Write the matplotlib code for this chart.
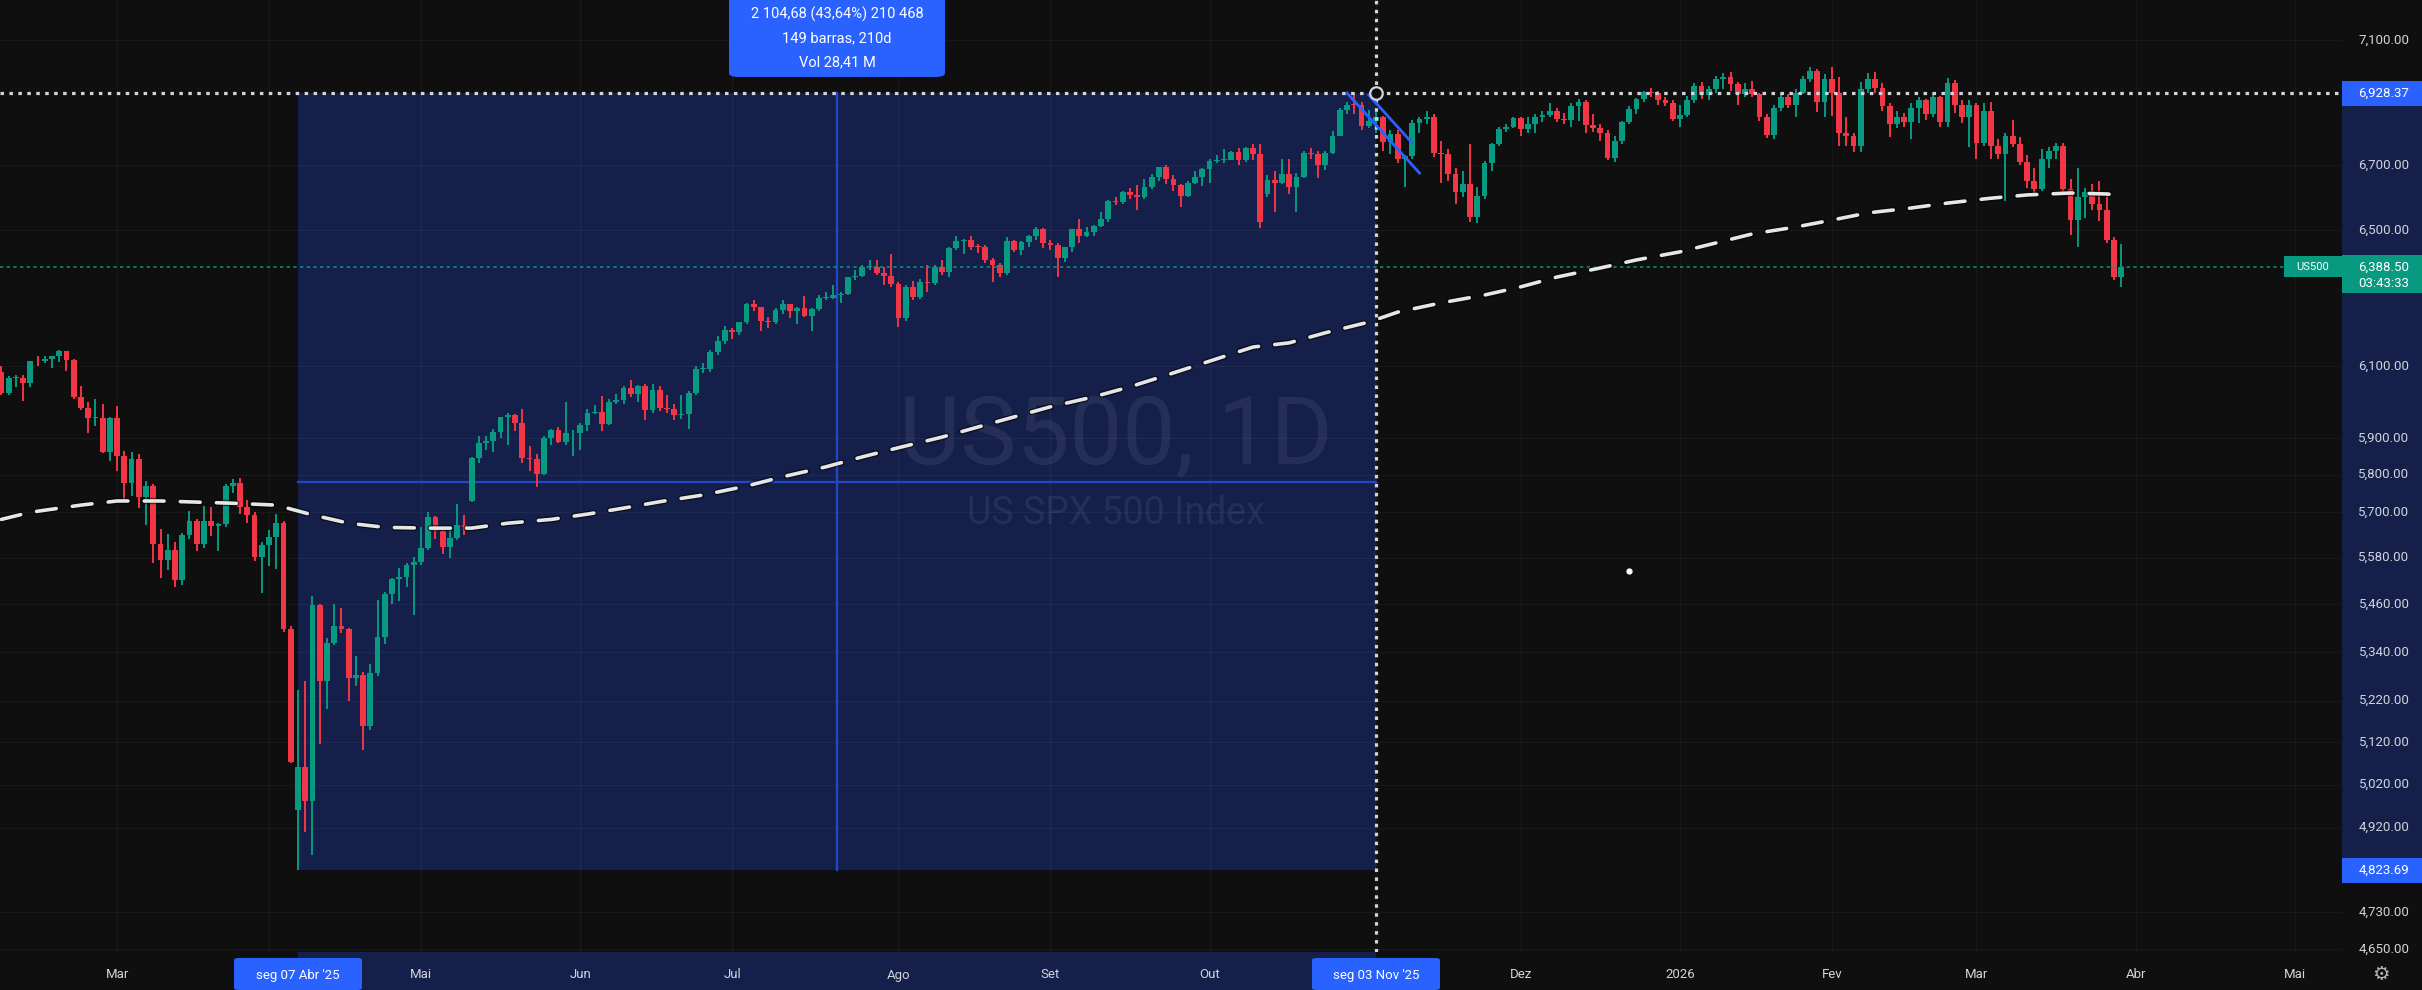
import numpy as np
import pandas as pd
import matplotlib
matplotlib.use("Agg")
import matplotlib.pyplot as plt
import matplotlib.transforms as mtransforms
import matplotlib.patheffects as pe
from matplotlib.patches import Rectangle, FancyBboxPatch

plt.rcParams['font.family'] = ['Roboto', 'DejaVu Sans']

# ---------------------------------------------------------------- data
first_day = "2025-02-05"
last_day = "2026-03-30"
closed_days = ["2025-04-18", "2025-12-25", "2026-01-01"]

opens = [
    6037,6061,6083,6026,6066,6068,6052,6115,6114,6122,6129,6144,6117,6013,5983,5955,5956,5861,
    5955,5849,5778,5843,5739,5770,5615,5573,5599,5522,5639,5675,5615,5676,5663,5668,5768,5777,5712,5693,5581,
    5612,5633,5671,5397,4960,5062,4982,5457,5268,5363,5406,5397,5276,5283,5158,5288,5376,5485,5525,5529,5561,
    5569,5604,5687,5650,5607,5631,5664,5730,5844,5886,5892,5917,5958,5964,5940,5845,5842,5802,5900,5922,5889,5912,
    5912,5936,5970,5971,5939,6000,6006,6038,6022,6045,5977,6033,5983,5981,5962,5967,6025,6092,6092,6141,6173,
    6205,6198,6227,6279,6270,6230,6226,6263,6280,6260,6269,6244,6264,6297,6297,6306,6309,6359,6363,6389,6390,6371,6362,
    6339,6238,6330,6299,6345,6340,6389,6374,6446,6466,6469,6450,6449,6411,6396,6370,6467,6439,6465,6481,6502,
    6460,6455,6416,6448,6502,6482,6495,6512,6532,6588,6584,6615,6607,6600,6631,6664,6693,6657,6638,6605,6644,6661,
    6688,6711,6715,6716,6740,6714,6753,6735,6610,6654,6644,6671,6630,6664,6736,6735,6699,6738,6792,6875,6891,6890,6822,
    6840,6852,6771,6796,6720,6728,6832,6846,6851,6737,6734,6672,6617,6642,6538,6603,6705,6766,6813,6820,
    6849,6812,6829,6850,6857,6870,6846,6841,6886,6901,6827,6816,6800,6721,6775,6835,6878,6910,6932,6930,6906,6896,
    6845,6858,6905,6950,6922,6940,6975,6980,6958,6925,6940,6925,6850,6795,6880,6915,6890,6930,6975,7000,6900,
    6975,6930,6800,6790,6760,6940,6975,6945,6885,6830,6850,6835,6880,6905,6860,6915,6835,6960,6890,6850,
    6890,6770,6870,6760,6735,6790,6765,6710,6650,6625,6720,6745,6760,6625,6530,6600,6615,6580,6560,6470,6360,
]
highs = [
    6062,6084,6101,6073,6076,6076,6116,6128,6130,6130,6147,6145,6121,6045,5999,6009,5994,5959,
    5987,5865,5860,5856,5783,5775,5655,5642,5620,5645,5703,5680,5715,5712,5670,5775,5787,5790,5732,5700,5620,
    5651,5695,5675,5404,5246,5267,5481,5460,5375,5460,5450,5400,5329,5290,5310,5470,5490,5528,5553,5565,5581,
    5659,5700,5688,5660,5660,5721,5692,5848,5906,5904,5925,5959,5969,5965,5980,5878,5855,5905,5925,5930,5999,5923,
    5940,5981,5990,6016,6007,6022,6043,6060,6046,6050,6050,6043,6018,5995,6018,6030,6101,6108,6146,6187,6215,
    6210,6227,6284,6290,6272,6243,6269,6290,6281,6272,6302,6267,6305,6316,6336,6316,6360,6381,6395,6410,6409,6390,6428,
    6345,6335,6346,6352,6395,6395,6410,6450,6481,6474,6482,6458,6456,6415,6400,6480,6470,6468,6485,6508,6505,
    6470,6460,6450,6503,6533,6508,6515,6555,6592,6600,6619,6627,6639,6656,6672,6695,6700,6670,6640,6650,6680,6690,
    6718,6730,6750,6745,6752,6755,6765,6765,6670,6680,6720,6720,6675,6745,6752,6745,6745,6808,6880,6900,6928,6900,6875,
    6875,6855,6810,6810,6730,6842,6850,6870,6860,6775,6750,6690,6680,6765,6630,6712,6770,6820,6830,6852,
    6850,6850,6860,6870,6895,6880,6865,6895,6910,6905,6860,6830,6810,6790,6840,6885,6912,6935,6945,6935,6915,6905,
    6890,6920,6960,6965,6950,6985,6992,6996,6965,6960,6968,6930,6860,6890,6928,6925,6940,6985,7013,7005,6990,
    7013,6980,6850,6800,6965,6993,6996,6960,6895,6870,6865,6896,6915,6910,6928,6920,6977,6970,6906,6906,
    6895,6896,6900,6780,6801,6842,6788,6730,6690,6749,6757,6770,6770,6657,6690,6627,6640,6650,6606,6480,6457,
]
lows = [
    6007,6048,6020,6020,6042,6003,6041,6100,6108,6095,6111,6087,6008,5978,5912,5932,5858,5837,
    5810,5732,5743,5711,5666,5565,5528,5547,5505,5510,5628,5597,5605,5635,5597,5660,5750,5695,5670,5572,5489,
    5558,5550,5390,5070,4824,4910,4857,5115,5200,5358,5386,5220,5255,5101,5150,5280,5360,5460,5468,5505,5433,
    5560,5600,5629,5590,5580,5625,5640,5725,5830,5868,5860,5900,5880,5920,5830,5810,5767,5800,5880,5885,5880,5850,
    5868,5920,5966,5920,5935,5995,5995,6013,6000,5950,5970,5975,5970,5950,5952,5925,6020,6080,6085,6132,6165,
    6177,6190,6220,6260,6201,6210,6220,6250,6240,6220,6241,6201,6258,6290,6293,6282,6305,6350,6360,6380,6365,6336,6330,
    6212,6230,6290,6295,6316,6335,6365,6360,6440,6427,6440,6430,6400,6343,6360,6365,6435,6425,6450,6470,6445,
    6440,6360,6405,6435,6460,6480,6481,6510,6525,6575,6580,6596,6560,6595,6625,6650,6640,6620,6570,6600,6640,6635,
    6645,6705,6705,6715,6700,6710,6715,6505,6600,6555,6640,6610,6555,6660,6720,6660,6685,6735,6790,6860,6860,6810,6815,
    6800,6745,6735,6705,6630,6720,6800,6830,6725,6645,6650,6580,6600,6525,6520,6595,6680,6760,6805,6815,
    6790,6800,6800,6835,6850,6835,6830,6820,6840,6800,6805,6775,6715,6710,6765,6830,6860,6900,6915,6890,6885,6840,
    6820,6850,6895,6910,6905,6930,6940,6935,6890,6915,6915,6840,6785,6780,6870,6880,6850,6925,6965,6868,6850,
    6855,6760,6760,6740,6740,6930,6930,6870,6788,6815,6820,6780,6832,6842,6851,6819,6820,6864,6832,6757,
    6718,6760,6718,6718,6588,6757,6700,6627,6610,6618,6690,6720,6606,6486,6448,6537,6560,6528,6460,6350,6330,
]
closes = [
    6061,6083,6026,6066,6068,6052,6115,6114,6122,6129,6144,6117,6013,5983,5955,5956,5861,5955,
    5849,5778,5843,5739,5770,5615,5573,5599,5522,5639,5675,5615,5676,5663,5668,5768,5777,5712,5693,5581,5612,
    5633,5671,5397,5074,5062,4982,5457,5268,5363,5406,5397,5276,5283,5158,5288,5376,5485,5525,5529,5561,5569,
    5604,5687,5650,5607,5631,5664,5660,5844,5886,5892,5917,5958,5964,5940,5845,5842,5802,5900,5922,5889,5912,5912,
    5936,5970,5971,5939,6000,6006,6038,6022,6045,5977,6033,5983,5981,5962,5967,6025,6092,6092,6141,6173,6205,
    6198,6227,6279,6270,6230,6226,6263,6280,6260,6269,6244,6264,6297,6297,6306,6309,6359,6363,6389,6390,6371,6362,6339,
    6238,6330,6299,6345,6340,6389,6374,6446,6466,6469,6450,6449,6411,6396,6370,6467,6439,6465,6481,6502,6460,
    6455,6416,6448,6502,6482,6495,6512,6532,6588,6584,6615,6607,6600,6631,6664,6693,6657,6638,6605,6644,6661,6688,
    6711,6715,6716,6740,6714,6753,6735,6525,6654,6644,6671,6630,6664,6736,6735,6699,6738,6792,6875,6891,6890,6822,6840,
    6852,6771,6796,6720,6728,6832,6846,6851,6737,6734,6672,6617,6642,6538,6603,6705,6766,6813,6820,6849,
    6812,6829,6850,6857,6870,6846,6841,6886,6901,6827,6816,6800,6721,6775,6835,6878,6910,6932,6930,6906,6896,6845,
    6858,6905,6950,6922,6940,6975,6980,6958,6925,6940,6925,6850,6795,6880,6915,6890,6930,6975,7000,6900,6975,
    6930,6800,6790,6760,6940,6975,6945,6885,6830,6850,6835,6880,6905,6860,6915,6835,6960,6890,6850,6890,
    6770,6870,6760,6735,6790,6765,6710,6650,6625,6720,6745,6760,6625,6530,6600,6615,6580,6560,6470,6360,6388.5,
]

# 200-period moving average (white dashed)
sma_dates = [
    "2025-02-07","2025-02-13","2025-02-24","2025-03-03","2025-03-11","2025-03-18","2025-03-25","2025-04-02",
    "2025-04-09","2025-04-16","2025-04-24","2025-05-02","2025-05-12","2025-05-19","2025-05-27","2025-06-03",
    "2025-06-10","2025-06-17","2025-06-25","2025-07-03","2025-07-10","2025-07-18","2025-07-25","2025-08-01",
    "2025-08-11","2025-08-18","2025-08-25","2025-09-01","2025-09-09","2025-09-16","2025-09-22","2025-10-09",
    "2025-10-16","2025-10-23","2025-10-31","2025-11-06","2025-11-14","2025-11-24","2025-12-01","2025-12-08",
    "2025-12-16","2025-12-23","2026-01-02","2026-01-09","2026-01-16","2026-01-26","2026-02-02","2026-02-09",
    "2026-02-17","2026-02-24","2026-03-04","2026-03-11","2026-03-19","2026-03-26","2026-03-30",
]
sma_values = [
    5680,5699,5718,5729,5729,5726,5723,5718,
    5692,5670,5659,5657,5657,5670,5680,5694,
    5710,5727,5745,5769,5794,5821,5848,5873,
    5902,5930,5958,5986,6014,6042,6068,6155,
    6167,6196,6227,6256,6283,6306,6330,6359,
    6386,6410,6434,6461,6488,6509,6530,6552,
    6567,6582,6597,6607,6613,6610,6606,
]

range_start_date, range_low = "2025-04-07", 4823.69
range_end_date, range_high = "2025-11-03", 6928.37
range_info = ["2 104,68 (43,64%) 210 468", "149 barras, 210d", "Vol 28,41 M"]
range_date_labels = ["seg 07 Abr '25", "seg 03 Nov '25"]
range_price_labels = ["4,823.69", "6,928.37"]

last_price = 6388.50
last_price_lines = ["6,388.50", "03:43:33"]
symbol = "US500"
watermark_title = "US500, 1D"
watermark_sub = "US SPX 500 Index"

price_ticks = [7100, 6700, 6500, 6100, 5900, 5800, 5700, 5580, 5460, 5340, 5220, 5120, 5020, 4920, 4730, 4650]
time_tick_dates = ["2025-03-03", "2025-04-01", "2025-05-01", "2025-06-02", "2025-07-01", "2025-08-01",
                   "2025-09-01", "2025-10-01", "2025-11-03", "2025-12-01", "2026-01-02", "2026-02-02",
                   "2026-03-02", "2026-04-01", "2026-05-01"]
time_tick_labels = ["Mar", "Abr", "Mai", "Jun", "Jul", "Ago", "Set", "Out", "Nov", "Dez", "2026",
                    "Fev", "Mar", "Abr", "Mai"]

# user drawings on the chart
channel_upper_dates, channel_upper_prices = ["2025-10-28", "2025-11-11"], [6928, 6675]
channel_lower_dates, channel_lower_prices = ["2025-10-31", "2025-11-10"], [6922, 6769]
cursor_date, cursor_price = "2025-12-22", 5545

# ---------------------------------------------------------------- style
BG = "#0f0f0f"
UP = "#089981"
DN = "#f23645"
BLUE = "#2962ff"
RANGE_FILL = "#15204a"
TXT = "#d1d4dc"

W, H = 2422, 990
PLOT_RIGHT, PLOT_BOTTOM = 2342, 952

# ---------------------------------------------------------------- calendar
cal = pd.bdate_range(first_day, "2026-05-29")
cal = cal[~cal.isin(pd.to_datetime(closed_days))]
origin = cal.get_loc(pd.Timestamp(range_start_date))


def bar_x(d):
    return cal.get_loc(pd.Timestamp(d)) - origin


n = len(closes)
assert len(opens) == n and len(highs) == n and len(lows) == n
assert cal[n - 1] == pd.Timestamp(last_day)
xs = np.arange(n) - origin

O = np.array(opens, float)
Hi = np.array(highs, float)
L = np.array(lows, float)
C = np.array(closes, float)

# ---------------------------------------------------------------- figure
fig = plt.figure(figsize=(W / 100, H / 100), dpi=100, facecolor=BG)
ax = fig.add_axes([0, (H - PLOT_BOTTOM) / H, PLOT_RIGHT / W, PLOT_BOTTOM / H])
ax.set_facecolor(BG)
ax.set_yscale("log")
ax.set_xlim(-41.19, 282.52)
ax.set_ylim(4643.2, 7235.2)
for s in ax.spines.values():
    s.set_visible(False)
ax.set_xticks([])
ax.set_yticks([])
ax.yaxis.set_minor_locator(matplotlib.ticker.NullLocator())

x0 = bar_x(range_start_date)
x1 = bar_x(range_end_date)

# grid
for p in price_ticks:
    ax.axhline(p, color="#ffffff", alpha=0.04, lw=1, zorder=0.6)
for d in time_tick_dates:
    ax.axvline(bar_x(d), color="#ffffff", alpha=0.04, lw=1, zorder=0.6)

# date/price range rectangle
ax.add_patch(Rectangle((x0, range_low), x1 - x0, range_high - range_low,
                       facecolor=RANGE_FILL, edgecolor="none", zorder=0.5))
xm = (x0 + x1) / 2
pm = np.sqrt(range_low * range_high)
ax.plot([xm, xm], [range_low, range_high], color="#2447c9", lw=1.6, zorder=1)
ax.plot([x0, x1], [pm, pm], color="#2447c9", lw=1.6, zorder=1)

# watermark
ax.text(1116 / PLOT_RIGHT, 1 - 437 / PLOT_BOTTOM, watermark_title, transform=ax.transAxes,
        ha="center", va="center", fontsize=68, color="#ffffff", alpha=0.07, zorder=0.8)
ax.text(1116 / PLOT_RIGHT, 1 - 514 / PLOT_BOTTOM, watermark_sub, transform=ax.transAxes,
        ha="center", va="center", fontsize=27, color="#ffffff", alpha=0.07, zorder=0.8)

# candles
up = C >= O
cols = np.where(up, UP, DN)
ax.vlines(xs, L, Hi, colors=cols, lw=1.4, zorder=3)
blo = np.minimum(O, C)
bhi = np.maximum(np.maximum(O, C), blo * 1.0004)
ax.bar(xs, bhi - blo, bottom=blo, width=0.8, color=cols, linewidth=0, zorder=4)

# moving average
sx = [bar_x(d) for d in sma_dates]
ax.plot(sx, sma_values, color="#e6e6e6", lw=2.6, dashes=(5.5, 4.5), dash_capstyle="round", zorder=6,
        path_effects=[pe.Stroke(linewidth=4.6, foreground="#000000", alpha=0.55), pe.Normal()])

# last price line
ax.axhline(last_price, color=UP, lw=1.2, dashes=(2, 2), alpha=0.9, zorder=5)

# crosshair dotted lines
ax.axhline(range_high, color="#d1d4dc", lw=2.3, dashes=(1.1, 1.7), zorder=7)
ax.axvline(x1, color="#d1d4dc", lw=2.3, dashes=(1.1, 1.7), zorder=7)
ax.plot([x1], [range_high], marker="o", ms=9, mfc=BG, mec="#d1d4dc", mew=1.6, zorder=8)

# drawings
ax.plot([bar_x(d) for d in channel_upper_dates], channel_upper_prices, color=BLUE, lw=2, zorder=7)
ax.plot([bar_x(d) for d in channel_lower_dates], channel_lower_prices, color=BLUE, lw=2, zorder=7)
ax.plot([bar_x(cursor_date)], [cursor_price], marker="o", ms=3.5, color="#ffffff", zorder=8)

# ---------------------------------------------------------------- axes areas
ty = mtransforms.blended_transform_factory(fig.transFigure, ax.transData)
tx = mtransforms.blended_transform_factory(ax.transData, fig.transFigure)


def ypx(p):
    return ax.transData.transform((0, p))[1]


def xpx(v):
    return ax.transData.transform((v, 1.0))[0]


# price axis highlight
fig.add_artist(Rectangle((PLOT_RIGHT / W, range_low), (W - PLOT_RIGHT) / W, range_high - range_low,
                         transform=ty, facecolor=RANGE_FILL, edgecolor="none", zorder=1))
# time axis highlight
fig.add_artist(Rectangle((x0, 0), x1 - x0, (H - PLOT_BOTTOM) / H, transform=tx,
                         facecolor=RANGE_FILL, edgecolor="none", zorder=1))

# price tick labels
for p in price_ticks:
    fig.text(2384 / W, p, f"{p:,.2f}", transform=ty, ha="center", va="center",
             fontsize=9.5, color=TXT, zorder=3)

# time tick labels (those under the range date boxes are hidden, as in the app)
range_xs = [bar_x(range_start_date), bar_x(range_end_date)]
for d, lbl in zip(time_tick_dates, time_tick_labels):
    bx = bar_x(d)
    if min(abs(bx - r) for r in range_xs) < 10:
        continue
    fig.text(bx, 15 / H, lbl, transform=tx, ha="center", va="center",
             fontsize=9.5, color=TXT, zorder=3)

# range price labels (blue)
for p, lbl in zip([range_low, range_high], range_price_labels):
    yc = ypx(p)
    fig.add_artist(Rectangle((PLOT_RIGHT / W, (yc - 12.5) / H), (W - PLOT_RIGHT) / W, 25 / H,
                             transform=fig.transFigure, facecolor=BLUE, edgecolor="none", zorder=10))
    fig.text(2384 / W, yc / H, lbl, ha="center", va="center", fontsize=9.5, color="white", zorder=11)

# range date labels (blue)
for d, lbl in zip([range_start_date, range_end_date], range_date_labels):
    xc = xpx(bar_x(d))
    fig.add_artist(FancyBboxPatch(((xc - 64) / W, 0), 128 / W, 32 / H,
                                  boxstyle="round,pad=0,rounding_size=0.002",
                                  transform=fig.transFigure, facecolor=BLUE, edgecolor="none", zorder=10))
    fig.text(xc / W, 15 / H, lbl, ha="center", va="center", fontsize=9.5, color="white", zorder=11)

# last price label
yc = ypx(last_price)
fig.add_artist(Rectangle((PLOT_RIGHT / W, (yc - 26) / H), (W - PLOT_RIGHT) / W, 38 / H,
                         transform=fig.transFigure, facecolor=UP, edgecolor="none", zorder=10))
fig.text(2384 / W, yc / H, last_price_lines[0], ha="center", va="center", fontsize=9.5,
         color="white", zorder=11)
fig.text(2384 / W, (yc - 16) / H, last_price_lines[1], ha="center", va="center", fontsize=9.5,
         color="white", zorder=11)
fig.add_artist(Rectangle((2284 / W, (yc - 10) / H), (PLOT_RIGHT - 2284) / W, 21 / H,
                         transform=fig.transFigure, facecolor=UP, edgecolor="none", zorder=10))
fig.text(2313 / W, yc / H, symbol, ha="center", va="center", fontsize=8, color="white", zorder=11)

# range info box (top)
xc = xpx(xm)
fig.add_artist(FancyBboxPatch(((xc - 108) / W, (H - 77) / H), 216 / W, 90 / H,
                              boxstyle="round,pad=0,rounding_size=0.004",
                              transform=fig.transFigure, facecolor=BLUE, edgecolor="none", zorder=10))
for i, line in enumerate(range_info):
    fig.text(xc / W, (H - 14 - 24 * i) / H, line, ha="center", va="center", fontsize=10.5,
             color="white", zorder=11)

# settings gear
fig.text(2381 / W, 15 / H, "\u2699", ha="center", va="center", fontsize=14, color="#b2b5be",
         family=["DejaVu Sans"])

fig.savefig("out.png", dpi=100, facecolor=BG)
